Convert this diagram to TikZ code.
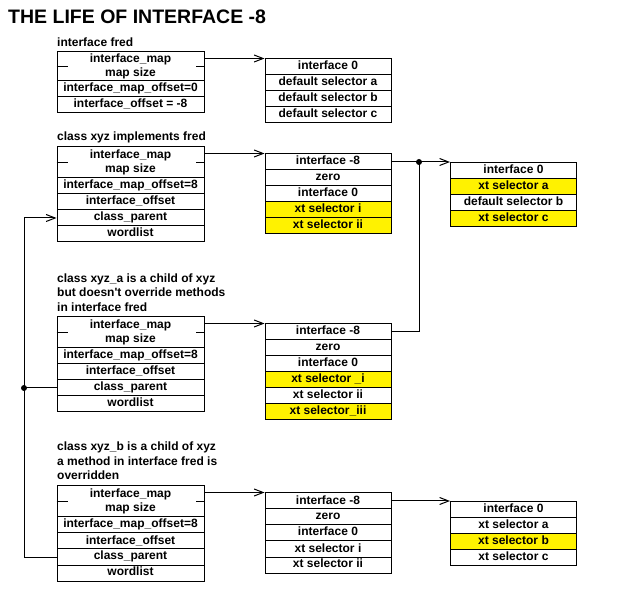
\documentclass[tikz,border=0pt]{standalone}
\usepackage{fontspec}
\setmainfont{Liberation Sans}
\usetikzlibrary{arrows.meta, positioning}

\begin{document}
\begin{tikzpicture}[x=1pt, y=-1pt,
  every node/.style={font=\bfseries\fontsize{12}{14.7}\selectfont},
  cell/.style={draw, line width=1pt, inner sep=0pt, minimum height=16pt, text height=8.6pt, text depth=2.6pt},
  slot/.style={cell, minimum width=147pt},
  entry/.style={cell, minimum width=126pt},
  mapcell/.style={draw, line width=1pt, inner sep=0pt, minimum width=147pt, minimum height=31pt, align=center},
  caption/.style={anchor=west, inner sep=0pt, align=left},
  ptr/.style={line width=1pt, -{Straight Barb[length=9pt, width=7pt]}},
  wire/.style={line width=1pt}]
\useasboundingbox (0,0) rectangle (641,604);

\node[anchor=west, inner sep=0pt, font=\bfseries\fontsize{19.5}{20}\selectfont] (title) at (8,17) {THE LIFE OF INTERFACE -8};

% interface fred
\node[caption] (cap1) at (57,42) {interface fred};
\node[mapcell, minimum height=29pt] (s1) at (130.5,66.5) {interface\_map\\map size};
\draw[wire] (s1.west) -- ++(11,0) (s1.east) -- ++(-9,0);
\foreach \t [count=\i] in {interface\_map\_offset=0, interface\_offset = -8}
    \node[slot] (s1r\i) at (130.5, 73+16*\i) {\t};
\foreach \t [count=\i] in {interface 0, default selector a, default selector b, default selector c}
    \node[entry] (t1r\i) at (328, 51+16*\i) {\t};
\draw[ptr] (s1.east |- t1r1.north west) -- (t1r1.north west);

% class xyz
\node[caption] (cap2) at (57,137) {class xyz implements fred};
\node[mapcell] (s2) at (130.5,162.5) {interface\_map\\map size};
\draw[wire] (s2.west) -- ++(11,0) (s2.east) -- ++(-9,0);
\foreach \t [count=\i] in {interface\_map\_offset=8, interface\_offset, class\_parent, wordlist}
    \node[slot] (s2r\i) at (130.5, 170+16*\i) {\t};
\foreach \t/\f [count=\i] in {interface -8/white, zero/white, interface 0/white, xt selector i/yellow, xt selector ii/yellow}
    \node[entry, fill=\f] (t2r\i) at (328, 146+16*\i) {\t};
\foreach \t/\f [count=\i] in {interface 0/white, xt selector a/yellow, default selector b/white, xt selector c/yellow}
    \node[entry, fill=\f] (u2r\i) at (513.5, 154.5+16*\i) {\t};
\draw[ptr] (s2.east |- t2r1.north west) -- (t2r1.north west);
\draw[ptr] (t2r1.east |- u2r1.north west) -- (u2r1.north west);

% class xyz_a
\node[caption] (cap3) at (57,292.5) {class xyz\_a is a child of xyz\\but doesn\textquotesingle t override methods\\in interface fred};
\node[mapcell] (s3) at (130.5,332.5) {interface\_map\\map size};
\draw[wire] (s3.west) -- ++(11,0) (s3.east) -- ++(-9,0);
\foreach \t [count=\i] in {interface\_map\_offset=8, interface\_offset, class\_parent, wordlist}
    \node[slot] (s3r\i) at (130.5, 340+16*\i) {\t};
\foreach \t/\f [count=\i] in {interface -8/white, zero/white, interface 0/white, xt selector \_i/yellow, xt selector ii/white, xt selector\_iii/yellow}
    \node[entry, fill=\f] (t3r\i) at (328, 316+16*\i) {\t};
\draw[ptr] (s3.east |- t3r1.north west) -- (t3r1.north west);

% class xyz_b
\node[caption] (cap4) at (57,461) {class xyz\_b is a child of xyz\\a method in interface fred is\\overridden};
\node[mapcell] (s4) at (130.5,501.5) {interface\_map\\map size};
\draw[wire] (s4.west) -- ++(11,0) (s4.east) -- ++(-9,0);
\foreach \t [count=\i] in {interface\_map\_offset=8, interface\_offset, class\_parent, wordlist}
    \node[slot] (s4r\i) at (130.5, 509+16*\i) {\t};
\foreach \t [count=\i] in {interface -8, zero, interface 0, xt selector i, xt selector ii}
    \node[entry] (t4r\i) at (328, 485+16*\i) {\t};
\foreach \t/\f [count=\i] in {interface 0/white, xt selector a/white, xt selector b/yellow, xt selector c/white}
    \node[entry, fill=\f] (u4r\i) at (513.5, 493.5+16*\i) {\t};
\draw[ptr] (s4.east |- t4r1.north west) -- (t4r1.north west);
\draw[ptr] (t4r1.east |- u4r1.north west) -- (u4r1.north west);

% shared interface 0 of xyz_a
\coordinate (j1) at (t2r1.east -| 419,0);
\draw[wire] (t3r1.east) -| (j1);
\fill (j1) circle (3pt);

% class_parent links
\coordinate (rail) at (24,0);
\coordinate (j2) at (rail |- s3r3.west);
\draw[ptr] (s4r3.west) -- (s4r3.west -| rail) -- (s2r3.west -| rail) -- (s2r3.west);
\draw[wire] (j2) -- (s3r3.west);
\fill (j2) circle (3pt);
\end{tikzpicture}
\end{document}
